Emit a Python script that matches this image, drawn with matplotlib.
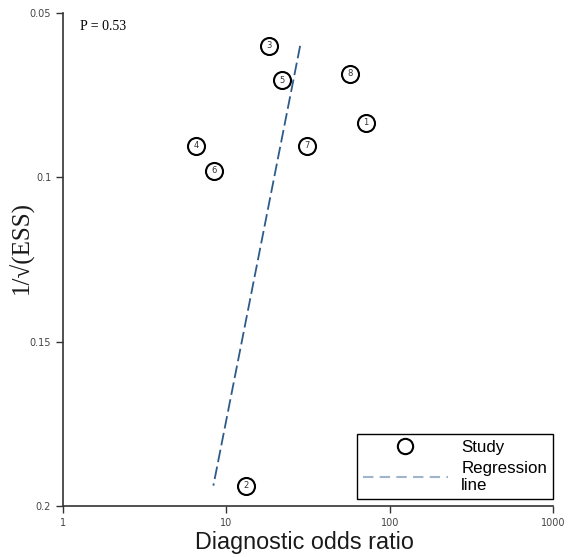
import matplotlib
matplotlib.use("Agg")
import matplotlib.pyplot as plt
from matplotlib.lines import Line2D

study_ids = ["1", "2", "3", "4", "5", "6", "7", "8"]
dor = [71.4, 13.2, 18.3, 6.56, 21.9, 8.45, 31.2, 57.0]
inv_sqrt_ess = [0.0834, 0.1938, 0.0600, 0.0904, 0.0704, 0.0980, 0.0904, 0.0685]
reg_x = [28.3, 8.33]
reg_y = [0.0600, 0.1938]
p_text = "P = 0.53"
xticks = [1, 10, 100, 1000]
xtick_labels = ["1", "10", "100", "1000"]
yticks = [0.05, 0.1, 0.15, 0.2]
ytick_labels = ["0.05", "0.1", "0.15", "0.2"]

fig = plt.figure(figsize=(5.68, 5.57), dpi=100)
ax = fig.add_axes([63/568, 1-506/557, (553-63)/568, (506-13)/557])

ax.set_xscale("log")
ax.set_xlim(1, 1000)
ax.set_ylim(0.2, 0.05)

ax.plot(reg_x, reg_y, color="#2d5b8a", lw=1.3, dashes=(7, 2.5), zorder=2)
ax.scatter(dor, inv_sqrt_ess, s=150, facecolor="white", edgecolor="black", linewidths=1.5, zorder=3)
for sid, x, y in zip(study_ids, dor, inv_sqrt_ess):
    ax.text(x, y, sid, ha="center", va="center", fontsize=6, color="#333333", zorder=4)

ax.set_xticks(xticks)
ax.set_xticklabels(xtick_labels)
ax.minorticks_off()
ax.set_yticks(yticks)
ax.set_yticklabels(ytick_labels)
ax.tick_params(axis="both", labelsize=7, direction="out", length=5, width=1,
               colors="#333333", labelcolor="#444444")

for s in ["top", "right"]:
    ax.spines[s].set_visible(False)
for s in ["left", "bottom"]:
    ax.spines[s].set_linewidth(1.2)
    ax.spines[s].set_color("#333333")

ax.set_xlabel("Diagnostic odds ratio", fontsize=16.8, family="Liberation Sans", color="#1a1a1a")
ax.xaxis.label.set(ha="center", va="center")
ax.xaxis.set_label_coords((304-63)/490, (506-543)/493)

ax.set_ylabel("1/\u221a(ESS)", fontsize=18, family="Liberation Serif", color="#1a1a1a")
ax.yaxis.label.set(ha="center", va="center")
ax.yaxis.set_label_coords((21-63)/490, (506-247)/493)

ax.text(0.035, 0.985, p_text, transform=ax.transAxes, fontsize=10, family="Liberation Serif", va="top", ha="left")

handles = [
    Line2D([], [], marker="o", linestyle="none", markersize=11, markerfacecolor="white",
           markeredgecolor="black", markeredgewidth=1.5, label="Study"),
    Line2D([], [], color="#9fb5cc", lw=1.5, dashes=(5, 3), label="Regression\nline"),
]
leg = ax.legend(handles=handles, loc="lower right", bbox_to_anchor=(1.0, (506-499)/493),
                borderaxespad=0, fancybox=False, edgecolor="black", framealpha=1,
                prop={"family": "Liberation Sans", "size": 12.2},
                handlelength=5, handletextpad=0.8, borderpad=0.35, labelspacing=0.35)
leg.get_frame().set_linewidth(1.0)

fig.savefig("out.png", dpi=100)
